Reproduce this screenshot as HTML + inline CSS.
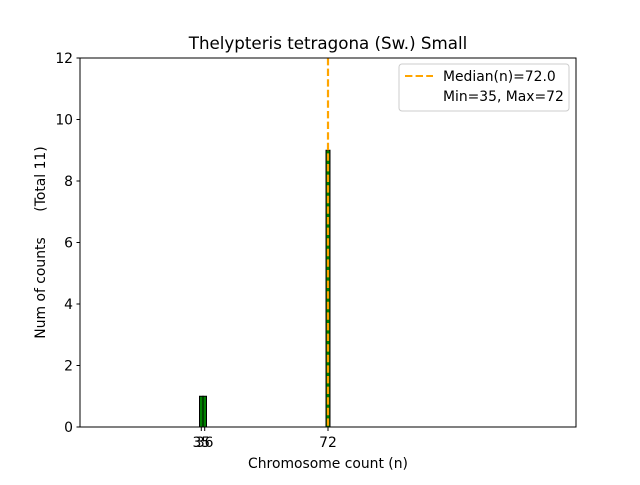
<!DOCTYPE html><html><head><style>body{margin:0;background:#fff}svg{font-family:"DejaVu Sans",sans-serif}</style></head><body>
<svg width="640" height="480" xmlns="http://www.w3.org/2000/svg">
<rect width="640" height="480" fill="#fff"/>
<line x1="80" y1="427" x2="340" y2="427" stroke="#888" stroke-width="1"/>
<rect x="199.5" y="396.25" width="3.5" height="30.75" fill="#008000" stroke="#000" stroke-width="1"/>
<rect x="203" y="396.25" width="3.5" height="30.75" fill="#008000" stroke="#000" stroke-width="1"/>
<rect x="326" y="150.25" width="4" height="276.75" fill="#008000" stroke="#000" stroke-width="1"/>
<line x1="328" y1="58" x2="328" y2="427" stroke="#FFA500" stroke-width="2.2" stroke-dasharray="7.4,3.2"/>
<rect x="80" y="58" width="496" height="369" fill="none" stroke="#000" stroke-width="1"/>
<g font-size="13.9" fill="#000" text-anchor="end">
<line x1="76.5" y1="427" x2="80" y2="427" stroke="#000"/><text x="73" y="432">0</text>
<line x1="76.5" y1="365.5" x2="80" y2="365.5" stroke="#000"/><text x="73" y="370.5">2</text>
<line x1="76.5" y1="304" x2="80" y2="304" stroke="#000"/><text x="73" y="309">4</text>
<line x1="76.5" y1="242.5" x2="80" y2="242.5" stroke="#000"/><text x="73" y="247.5">6</text>
<line x1="76.5" y1="181" x2="80" y2="181" stroke="#000"/><text x="73" y="186">8</text>
<line x1="76.5" y1="119.5" x2="80" y2="119.5" stroke="#000"/><text x="73" y="124.5">10</text>
<line x1="76.5" y1="58" x2="80" y2="58" stroke="#000"/><text x="73" y="63">12</text>
</g>
<g font-size="13.9" fill="#000" text-anchor="middle">
<line x1="201.3" y1="427" x2="201.3" y2="431" stroke="#000"/><text x="201.3" y="447">35</text>
<line x1="204.7" y1="427" x2="204.7" y2="431" stroke="#000"/><text x="204.7" y="447">36</text>
<line x1="328" y1="427" x2="328" y2="431" stroke="#000"/><text x="328" y="447">72</text>
<text x="328" y="468">Chromosome count (n)</text>
<text x="328" y="49" font-size="16.7">Thelypteris tetragona (Sw.) Small</text>
<text transform="translate(45,288) rotate(-90)">Num of counts</text>
<text transform="translate(45,179) rotate(-90)">(Total 11)</text>
</g>
<rect x="399" y="64" width="170" height="47" rx="3" fill="#fff" stroke="#ccc"/>
<line x1="405" y1="76" x2="433" y2="76" stroke="#FFA500" stroke-width="2" stroke-dasharray="7.4,3.2"/>
<text x="443" y="81" font-size="13.9">Median(n)=72.0</text>
<text x="443" y="101" font-size="13.9">Min=35, Max=72</text>
</svg></body></html>
